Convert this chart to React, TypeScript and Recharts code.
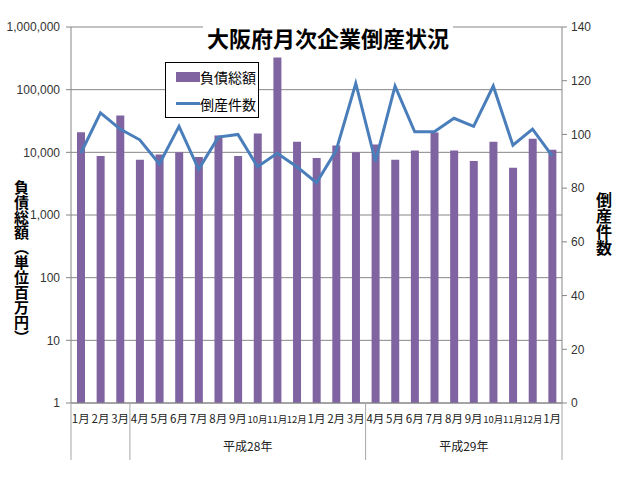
import {
  ComposedChart,
  Bar,
  Line,
  XAxis,
  YAxis,
  CartesianGrid,
  Legend
} from 'recharts'

const months = [
  '1月', '2月', '3月',
  '4月', '5月', '6月', '7月', '8月', '9月', '10月', '11月', '12月', '1月', '2月', '3月',
  '4月', '5月', '6月', '7月', '8月', '9月', '10月', '11月', '12月', '1月'
]

// 負債総額 (百万円)
const debtTotals = [
  21000, 8750, 38700,
  7640, 9200, 10000, 8400, 18500, 8750, 20000, 326000, 14800, 8100, 12800, 10000,
  13300, 7640, 10650, 20700, 10650, 7280, 14800, 5700, 16400, 11000
]

// 倒産件数
const bankruptcyCounts = [
  93, 108, 102,
  98, 89, 103, 87, 99, 100, 88, 93, 88, 82, 94, 119,
  90, 118, 101, 101, 106, 103, 118, 96, 102, 92
]

const leftTicks = [1, 10, 100, 1000, 10000, 100000, 1000000]
const rightTicks = [0, 20, 40, 60, 80, 100, 120, 140]

const groups = [
  { label: '平成28年', first: 3, last: 14 },
  { label: '平成29年', first: 15, last: 24 }
]

const data = months.map((m, i) => ({
  month: m,
  debt: debtTotals[i],
  count: bankruptcyCounts[i]
}))

const PURPLE = '#8064A2'
const BLUE = '#4A7EBB'
const AXIS = '#868686'
const JP = "'Noto Sans CJK JP', sans-serif"

const plotLeft = 71
const plotRight = 562
const plotBottom = 403
const band = (plotRight - plotLeft) / months.length

const MonthTick = ({ x, payload, index }: any) => {
  const lines: number[] = []
  if (index === 0) lines.push(x - band / 2)
  if (index === 2 || groups.some((g) => g.last === index)) lines.push(x + band / 2)
  const group = groups.find((g) => Math.floor((g.first + g.last) / 2) === index)
  const groupOffset = group && (group.last - group.first) % 2 === 1 ? band / 2 : 0
  const wide = String(payload.value).length > 2
  return (
    <g>
      <text
        x={x}
        y={plotBottom + 20}
        textAnchor="middle"
        fontSize={wide ? 9.5 : 11.5}
        fontFamily={JP}
        fill="#222"
      >
        {payload.value}
      </text>
      {lines.map((lx, k) => (
        <line key={k} x1={lx} x2={lx} y1={plotBottom} y2={460} stroke="#a6a6a6" />
      ))}
      {group && (
        <text x={x + groupOffset} y={plotBottom + 48} textAnchor="middle" fontSize={12} fontFamily={JP} fill="#222">
          {group.label}
        </text>
      )}
    </g>
  )
}

const LegendBox = () => (
  <div
    style={{
      width: 92,
      height: 54,
      border: '1px solid #000',
      background: '#fff',
      fontFamily: JP,
      fontSize: 14,
      color: '#000',
      boxSizing: 'content-box'
    }}
  >
    <div style={{ display: 'flex', alignItems: 'center', height: 27, paddingLeft: 10 }}>
      <span style={{ display: 'inline-block', width: 24, height: 10, background: PURPLE }} />
      <span>負債総額</span>
    </div>
    <div style={{ display: 'flex', alignItems: 'center', height: 27, paddingLeft: 10 }}>
      <span style={{ display: 'inline-block', width: 24, height: 3, background: BLUE }} />
      <span>倒産件数</span>
    </div>
  </div>
)

export default function App() {
  return (
    <div style={{ position: 'absolute', left: 0, top: 0, width: 640, height: 487, background: '#fff' }}>
      <ComposedChart
        width={640}
        height={487}
        data={data}
        margin={{ top: 27, right: 0, bottom: 0, left: 0 }}
      >
        <CartesianGrid yAxisId="left" vertical={false} stroke={AXIS} />
        <XAxis
          dataKey="month"
          interval={0}
          height={84}
          tickLine={false}
          axisLine={{ stroke: AXIS }}
          tick={<MonthTick />}
        />
        <YAxis
          yAxisId="left"
          scale="log"
          domain={[1, 1000000]}
          ticks={leftTicks}
          allowDataOverflow
          width={71}
          tickSize={5}
          tickMargin={6}
          axisLine={{ stroke: AXIS }}
          tickLine={{ stroke: AXIS }}
          tick={{ fontSize: 12, fill: '#333', fontFamily: "'Liberation Sans', sans-serif" }}
          tickFormatter={(v: number) => v.toLocaleString('en-US')}
        />
        <YAxis
          yAxisId="right"
          orientation="right"
          domain={[0, 140]}
          ticks={rightTicks}
          width={78}
          tickSize={5}
          tickMargin={4}
          axisLine={{ stroke: AXIS }}
          tickLine={{ stroke: AXIS }}
          tick={{ fontSize: 12, fill: '#333', fontFamily: "'Liberation Sans', sans-serif", textAnchor: 'start' }}
        />
        <Legend
          layout="horizontal"
          align="center"
          verticalAlign="middle"
          content={<LegendBox />}
          wrapperStyle={{ left: 165, top: 62, width: 94, height: 56 }}
        />
        <Bar
          yAxisId="left"
          dataKey="debt"
          name="負債総額"
          fill={PURPLE}
          barSize={8}
          isAnimationActive={false}
        />
        <Line
          yAxisId="right"
          dataKey="count"
          name="倒産件数"
          type="linear"
          stroke={BLUE}
          strokeWidth={3}
          dot={false}
          isAnimationActive={false}
        />
      </ComposedChart>

      {/* title, sits on the top gridline */}
      <div
        style={{
          position: 'absolute',
          left: 203,
          top: 22,
          width: 250,
          height: 30,
          lineHeight: '30px',
          background: '#fff',
          textAlign: 'center',
          fontFamily: JP,
          fontWeight: 'bold',
          fontSize: 22,
          color: '#000'
        }}
      >
        大阪府月次企業倒産状況
      </div>

      {/* axis titles */}
      <div
        style={{
          position: 'absolute',
          left: 13,
          top: 180,
          writingMode: 'vertical-rl',
          fontFamily: JP,
          fontWeight: 'bold',
          fontSize: 15,
          lineHeight: '17px',
          color: '#000'
        }}
      >
        負債総額（単位百万円）
      </div>
      <div
        style={{
          position: 'absolute',
          left: 595,
          top: 192,
          writingMode: 'vertical-rl',
          fontFamily: JP,
          fontWeight: 'bold',
          fontSize: 16,
          lineHeight: '17px',
          color: '#000'
        }}
      >
        倒産件数
      </div>
    </div>
  )
}
